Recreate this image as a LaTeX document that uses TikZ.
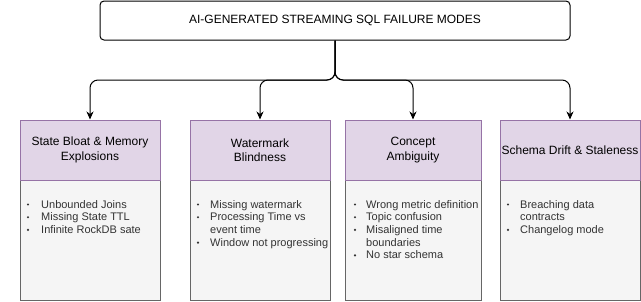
\documentclass[tikz,border=0pt]{standalone}
\usepackage{fontspec}
\setmainfont{Liberation Sans}
\usetikzlibrary{arrows.meta}
\definecolor{hdrfill}{HTML}{E1D5E7}
\definecolor{hdrdraw}{HTML}{9673A6}
\definecolor{bodyfill}{HTML}{F5F5F5}
\definecolor{bodydraw}{HTML}{666666}
\definecolor{bodytext}{HTML}{333333}
\tikzset{
  titlebox/.style={draw=black, fill=white, line width=1pt, rounded corners=4pt,
    minimum width=470pt, minimum height=39pt, inner sep=0pt,
    font=\fontsize{12}{14}\selectfont},
  hdrbox/.style={draw=hdrdraw, fill=hdrfill, line width=1pt,
    minimum height=60pt, inner sep=0pt, align=center,
    font=\fontsize{12}{14.5}\selectfont},
  bodybox/.style={draw=bodydraw, fill=bodyfill, line width=1pt,
    minimum height=120pt, inner sep=0pt},
  bodytxt/.style={anchor=base west, inner sep=0pt, text=bodytext,
    font=\fontsize{11}{12.7}\selectfont},
  bulletdot/.style={circle, fill=bodytext, inner sep=0pt, minimum size=2.4pt},
  edge/.style={draw=black, line width=1pt, rounded corners=8pt,
    -{Stealth[length=8pt,width=7pt,inset=2.5pt]}}
}
\begin{document}
\begin{tikzpicture}[x=1pt,y=-1pt]
\useasboundingbox (0,0) rectangle (641,301);
% title
\node[titlebox] (title) at (335,20.5) {AI-GENERATED STREAMING SQL FAILURE MODES};
% bodies
\node[bodybox, minimum width=140pt] (b1) at (90,240) {};
\node[bodybox, minimum width=140pt] (b2) at (260,240) {};
\node[bodybox, minimum width=136pt] (b3) at (413,240) {};
\node[bodybox, minimum width=140pt] (b4) at (570,240) {};
% headers
\node[hdrbox, minimum width=140pt] (h1) at (90,150) {State Bloat \& Memory\\Explosions};
\node[hdrbox, minimum width=140pt] (h2) at (260,150) {Watermark\\Blindness};
\node[hdrbox, minimum width=136pt] (h3) at (413,150) {Concept\\Ambiguity};
\node[hdrbox, minimum width=140pt] (h4) at (570,150) {Schema Drift \& Staleness};
% junction coordinates
\coordinate (j1) at (90,80);
\coordinate (j2) at (260,80);
\coordinate (j3) at (413,80);
\coordinate (j4) at (570,80);
\draw[edge] (title.south) |- (j1) -- (h1.north);
\draw[edge] (title.south) |- (j2) -- (h2.north);
\draw[edge] (title.south) |- (j3) -- (h3.north);
\draw[edge] (title.south) |- (j4) -- (h4.north);
% box 1 items
\node[bulletdot] (d11) at (28,204.5) {};
\node[bodytxt] (t11) at (41,208) {Unbounded Joins};
\node[bulletdot] (d12) at (28,217.2) {};
\node[bodytxt] (t12) at (41,220.7) {Missing State TTL};
\node[bulletdot] (d13) at (28,229.9) {};
\node[bodytxt] (t13) at (41,233.4) {Infinite RockDB sate};
% box 2 items
\node[bulletdot] (d21) at (198,204.5) {};
\node[bodytxt] (t21) at (210,208) {Missing watermark};
\node[bulletdot] (d22) at (198,217.2) {};
\node[bodytxt] (t22) at (210,220.7) {Processing Time vs};
\node[bodytxt] (t22b) at (210,233.4) {event time};
\node[bulletdot] (d23) at (198,242.6) {};
\node[bodytxt] (t23) at (210,246.1) {Window not progressing};
% box 3 items
\node[bulletdot] (d31) at (355,204.5) {};
\node[bodytxt] (t31) at (366,208) {Wrong metric definition};
\node[bulletdot] (d32) at (355,217.2) {};
\node[bodytxt] (t32) at (366,220.7) {Topic confusion};
\node[bulletdot] (d33) at (355,229.9) {};
\node[bodytxt] (t33) at (366,233.4) {Misaligned time};
\node[bodytxt] (t33b) at (366,246.1) {boundaries};
\node[bulletdot] (d34) at (355,255.3) {};
\node[bodytxt] (t34) at (366,258.8) {No star schema};
% box 4 items
\node[bulletdot] (d41) at (508,204.5) {};
\node[bodytxt] (t41) at (520,208) {Breaching data};
\node[bodytxt] (t41b) at (520,220.7) {contracts};
\node[bulletdot] (d42) at (508,229.9) {};
\node[bodytxt] (t42) at (520,233.4) {Changelog mode};
\end{tikzpicture}
\end{document}
